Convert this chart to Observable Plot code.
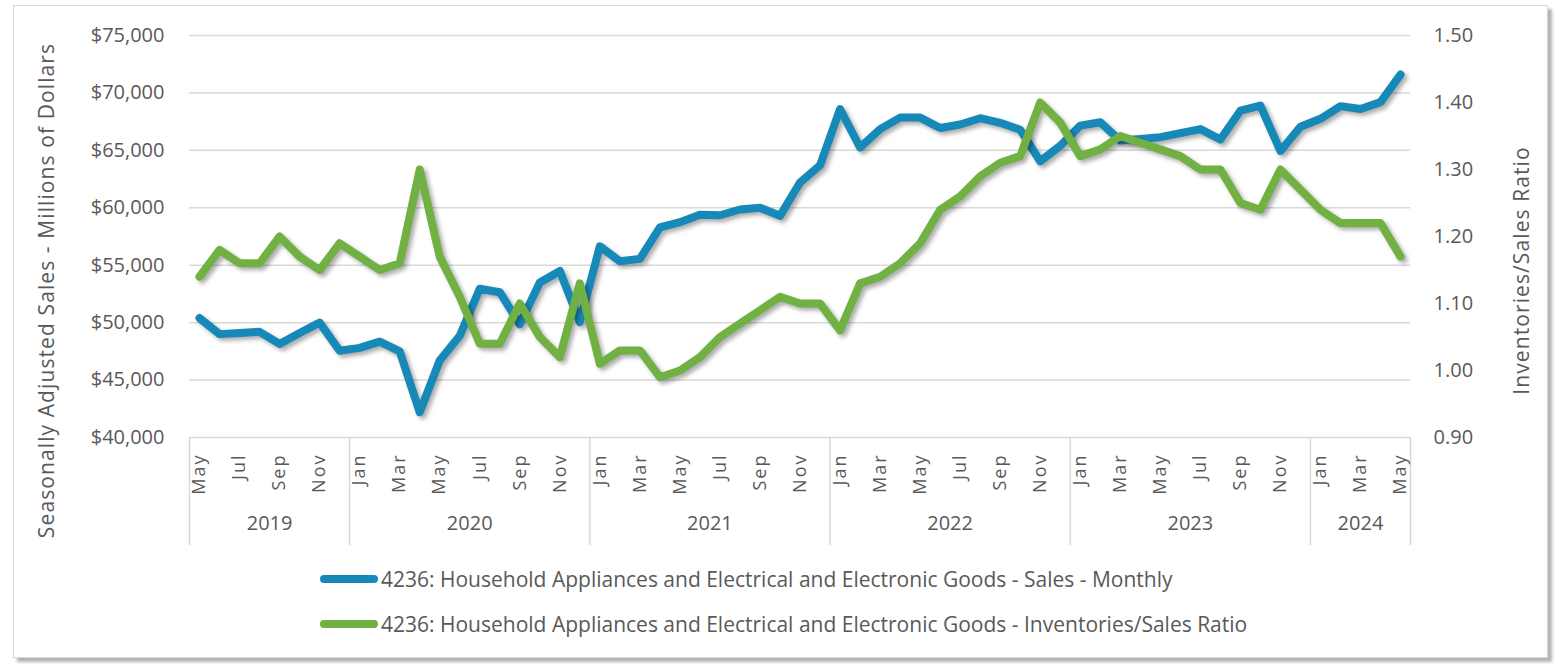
<!DOCTYPE html>
<html>
<head>
<meta charset="utf-8">
<script src="https://cdn.jsdelivr.net/npm/d3@7"></script>
<script src="https://cdn.jsdelivr.net/npm/@observablehq/plot@0.6"></script>
<style>
  html, body { margin: 0; padding: 0; background: #fff; }
  body { width: 1562px; height: 664px; overflow: hidden; position: relative; font-family: "Open Sans", sans-serif; }
  #frame { position: absolute; left: 13px; top: 5px; width: 1533px; height: 651px; border: 1.5px solid #d9d9d9; box-shadow: 4px 4px 3px rgba(0,0,0,0.3); background: #fff; }
  #chart { position: absolute; left: 0; top: 0; }
  #chart g[aria-label="line"] { filter: drop-shadow(3px 3px 2px rgba(0,0,0,0.32)); }
  #chart g[aria-label="x-axis tick label"] text { letter-spacing: 2px; }
  #chart g[aria-description="axis-title"] text { letter-spacing: 1.1px; }
  .leg { position: absolute; left: 320px; height: 28px; display: flex; align-items: center; color: #595959; font-size: 21px; white-space: nowrap; }
  .sw { display: inline-block; width: 58px; height: 8px; border-radius: 4px; margin-right: 3px; }
</style>
</head>
<body>
<div id="frame"></div>
<div id="chart"></div>
<div class="leg" id="leg1" style="top:565px"><span class="sw" id="sw1"></span><span id="lt1"></span></div>
<div class="leg" id="leg2" style="top:610px"><span class="sw" id="sw2"></span><span id="lt2"></span></div>
<script>
// ---- Data ----
const startMonth = "2019-05-01";
const monthCount = 61;
const monthNames = ["Jan","Feb","Mar","Apr","May","Jun","Jul","Aug","Sep","Oct","Nov","Dec"];

const sales = [
  50400, 49000, 49100, 49200, 48150, 49100, 50000, 47550,
  47800, 48350, 47500, 42200, 46700, 48850, 52950, 52650, 49850, 53500, 54500, 50050,
  56650, 55350, 55550, 58300, 58750, 59400, 59350, 59850, 60000, 59300, 62200, 63700,
  68600, 65250, 66850, 67850, 67850, 66950, 67250, 67800, 67400, 66800, 64050, 65400,
  67150, 67450, 65850, 66000, 66150, 66500, 66850, 65950, 68450, 68900, 64950, 67050,
  67750, 68850, 68600, 69200, 71600
];

const ratio = [
  1.14, 1.18, 1.16, 1.16, 1.20, 1.17, 1.15, 1.19,
  1.17, 1.15, 1.16, 1.30, 1.17, 1.11, 1.04, 1.04, 1.10, 1.05, 1.02, 1.13,
  1.01, 1.03, 1.03, 0.99, 1.00, 1.02, 1.05, 1.07, 1.09, 1.11, 1.10, 1.10,
  1.06, 1.13, 1.14, 1.16, 1.19, 1.24, 1.26, 1.29, 1.31, 1.32, 1.40, 1.37,
  1.32, 1.33, 1.35, 1.34, 1.33, 1.32, 1.30, 1.30, 1.25, 1.24, 1.30, 1.27,
  1.24, 1.22, 1.22, 1.22, 1.17
];

const salesTicks = [40000, 45000, 50000, 55000, 60000, 65000, 70000, 75000];
const ratioTicks = [0.90, 1.00, 1.10, 1.20, 1.30, 1.40, 1.50];

const leftTitle = "Seasonally Adjusted Sales - Millions of Dollars";
const rightTitle = "Inventories/Sales Ratio";
const seriesNames = [
  "4236: Household Appliances and Electrical and Electronic Goods - Sales - Monthly",
  "4236: Household Appliances and Electrical and Electronic Goods - Inventories/Sales Ratio"
];
const colors = ["#1789b8", "#71b043"];

// ---- Derived tables ----
const dates = d3.utcMonth.range(new Date(startMonth), d3.utcMonth.offset(new Date(startMonth), monthCount));
const rows = dates.map((d, i) => ({i, date: d, sales: sales[i], ratio: ratio[i]}));
const monthLabels = dates.map(d => monthNames[d.getUTCMonth()]);
const yearGroups = d3.groups(rows, d => d.date.getUTCFullYear()).map(([year, g]) => ({
  year: String(year), first: g[0].i, last: g[g.length - 1].i, mid: (g[0].i + g[g.length - 1].i) / 2
}));
const boundaries = [yearGroups[0].first - 0.5, ...yearGroups.map(g => g.last + 0.5)];
const tickIdx = rows.filter(r => r.i % 2 === 0).map(r => r.i);

// map secondary (ratio) axis onto the primary scale domain
const sMin = salesTicks[0], sMax = salesTicks[salesTicks.length - 1];
const rMin = ratioTicks[0], rMax = ratioTicks[ratioTicks.length - 1];
const toLeft = r => sMin + (r - rMin) / (rMax - rMin) * (sMax - sMin);
const fromLeft = v => rMin + (v - sMin) / (sMax - sMin) * (rMax - rMin);
const dollar = d3.format("$,");

const chart = Plot.plot({
  width: 1562,
  height: 555,
  marginLeft: 189,
  marginRight: 152,
  marginTop: 35,
  marginBottom: 118,
  style: {fontFamily: "'Open Sans', sans-serif", fontSize: "20px", color: "#595959", background: "transparent", overflow: "visible"},
  x: {type: "linear", domain: [-0.5, monthCount - 0.5], axis: null},
  y: {domain: [sMin, sMax], axis: null},
  marks: [
    Plot.ruleY(salesTicks, {stroke: "#d9d9d9", strokeWidth: 1.5}),
    Plot.ruleX(boundaries, {stroke: "#d9d9d9", strokeWidth: 1.5, insetTop: 402, insetBottom: -108}),
    Plot.axisY(salesTicks, {anchor: "left", tickSize: 0, tickPadding: 25, tickFormat: dollar, label: null}),
    Plot.axisY(ratioTicks.map(toLeft), {anchor: "right", tickSize: 0, tickPadding: 23, tickFormat: v => fromLeft(v).toFixed(2), label: null}),
    Plot.axisX(tickIdx, {anchor: "bottom", tickSize: 0, tickPadding: 16, tickRotate: -90, fontSize: 18, tickFormat: i => monthLabels[i], label: null}),
    Plot.text(yearGroups, {x: "mid", text: "year", frameAnchor: "bottom", dy: 92, fill: "#595959"}),
    Plot.text([leftTitle], {text: d => d, frameAnchor: "left", textAnchor: "middle", rotate: -90, dx: -142, dy: 54, fill: "#595959", fontSize: 21, ariaDescription: "axis-title"}),
    Plot.text([rightTitle], {text: d => d, frameAnchor: "right", textAnchor: "middle", rotate: -90, dx: 112, dy: 34, fill: "#595959", fontSize: 21, ariaDescription: "axis-title"}),
    Plot.line(rows, {x: "i", y: "sales", stroke: colors[0], strokeWidth: 8, strokeLinejoin: "round", strokeLinecap: "round"}),
    Plot.line(rows, {x: "i", y: d => toLeft(d.ratio), stroke: colors[1], strokeWidth: 8, strokeLinejoin: "round", strokeLinecap: "round"})
  ]
});
document.getElementById("chart").appendChild(chart);

document.getElementById("sw1").style.background = colors[0];
document.getElementById("sw2").style.background = colors[1];
document.getElementById("lt1").textContent = seriesNames[0];
document.getElementById("lt2").textContent = seriesNames[1];
</script>
</body>
</html>
